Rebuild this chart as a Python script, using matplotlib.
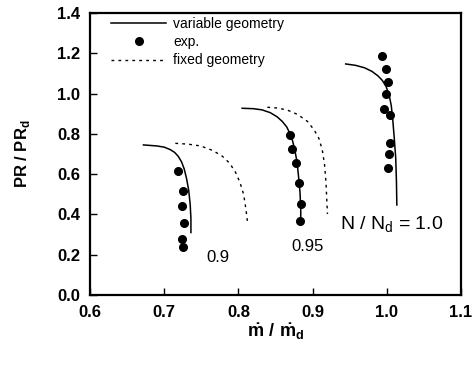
import matplotlib.pyplot as plt

plt.rcParams['font.family'] = ['Liberation Sans', 'DejaVu Sans']
plt.rcParams['mathtext.fontset'] = 'custom'
plt.rcParams['mathtext.rm'] = 'Liberation Sans'
plt.rcParams['mathtext.bf'] = 'Liberation Sans:bold'

# variable geometry (solid)
vg_09_x = [0.672, 0.690, 0.700, 0.708, 0.714, 0.719, 0.7235, 0.727, 0.730, 0.733, 0.735, 0.736, 0.736]
vg_09_y = [0.745, 0.740, 0.734, 0.722, 0.708, 0.688, 0.660, 0.625, 0.580, 0.520, 0.450, 0.380, 0.310]
vg_095_x = [0.805, 0.820, 0.832, 0.843, 0.852, 0.859, 0.865, 0.869, 0.873, 0.876, 0.879, 0.881, 0.883, 0.884, 0.884]
vg_095_y = [0.927, 0.925, 0.919, 0.905, 0.885, 0.862, 0.835, 0.805, 0.765, 0.720, 0.660, 0.590, 0.510, 0.430, 0.364]
vg_10_x = [0.9446, 0.958, 0.970, 0.980, 0.988, 0.994, 0.999, 1.003, 1.006, 1.008, 1.010, 1.012, 1.013, 1.0135]
vg_10_y = [1.147, 1.140, 1.128, 1.110, 1.088, 1.065, 1.035, 0.995, 0.940, 0.870, 0.780, 0.680, 0.560, 0.447]

# experiments
exp_09_x = [0.718, 0.7247, 0.724, 0.727, 0.724, 0.725]
exp_09_y = [0.617, 0.516, 0.442, 0.356, 0.277, 0.237]
exp_095_x = [0.870, 0.872, 0.877, 0.8815, 0.8847, 0.883]
exp_095_y = [0.794, 0.723, 0.657, 0.558, 0.450, 0.369]
exp_10_x = [0.994, 0.9986, 1.002, 0.9995, 0.996, 1.004, 1.004, 1.003, 1.002]
exp_10_y = [1.188, 1.120, 1.056, 1.000, 0.924, 0.892, 0.757, 0.700, 0.629]

# fixed geometry (dotted)
fg_09_x = [0.715, 0.732, 0.749, 0.765, 0.778, 0.788, 0.796, 0.802, 0.807, 0.810, 0.8126]
fg_09_y = [0.753, 0.749, 0.740, 0.718, 0.690, 0.655, 0.610, 0.560, 0.500, 0.430, 0.352]
fg_095_x = [0.839, 0.853, 0.866, 0.880, 0.893, 0.902, 0.9085, 0.913, 0.916, 0.918, 0.919, 0.920]
fg_095_y = [0.932, 0.928, 0.918, 0.896, 0.862, 0.820, 0.777, 0.720, 0.650, 0.560, 0.480, 0.402]

fig = plt.figure(figsize=(4.77, 3.66), dpi=100)
ax = fig.add_axes([0.1887, 0.194, 0.7778, 0.7705])

ax.plot(vg_09_x, vg_09_y, '-', color='black', lw=1.1, label='variable geometry')
ax.plot(vg_095_x, vg_095_y, '-', color='black', lw=1.1)
ax.plot(vg_10_x, vg_10_y, '-', color='black', lw=1.1)

ax.plot(exp_09_x, exp_09_y, 'o', color='black', ms=5.5, label='exp.')
ax.plot(exp_095_x, exp_095_y, 'o', color='black', ms=5.5)
ax.plot(exp_10_x, exp_10_y, 'o', color='black', ms=5.5)

ax.plot(fg_09_x, fg_09_y, color='black', lw=1, ls=(0, (2, 3)), label='fixed geometry')
ax.plot(fg_095_x, fg_095_y, color='black', lw=1, ls=(0, (2, 3)))

ax.text(0.773, 0.185, '0.9', fontsize=12, ha='center', va='center')
ax.text(0.893, 0.239, '0.95', fontsize=12, ha='center', va='center')
ax.text(1.006, 0.348, r'N / N$_\mathregular{d}$ = 1.0', fontsize=14, ha='center', va='center')

ax.set_xlim(0.6, 1.1)
ax.set_ylim(0.0, 1.4)
ax.set_xticks([0.6, 0.7, 0.8, 0.9, 1.0, 1.1])
ax.set_yticks([0.0, 0.2, 0.4, 0.6, 0.8, 1.0, 1.2, 1.4])
ax.set_xticklabels(['0.6', '0.7', '0.8', '0.9', '1.0', '1.1'], fontsize=12, fontweight='bold')
ax.set_yticklabels(['0.0', '0.2', '0.4', '0.6', '0.8', '1.0', '1.2', '1.4'], fontsize=12, fontweight='bold')
ax.tick_params(direction='in', length=5, width=1, top=False, right=False, pad=7)
for s in ax.spines.values():
    s.set_linewidth(1.6)

ax.set_xlabel(r'$\mathbf{\dot{m}\ /\ \dot{m}_d}$', fontsize=13, labelpad=1)
ax.set_ylabel(r'PR / PR$_\mathregular{d}$', fontsize=12, fontweight='bold', labelpad=18)

ax.legend(loc='upper left', bbox_to_anchor=(0.03, 1.02), frameon=False, fontsize=10,
          handlelength=4.0, borderpad=0.2, labelspacing=0.3, handletextpad=0.5)

fig.savefig('out.png', dpi=100)
